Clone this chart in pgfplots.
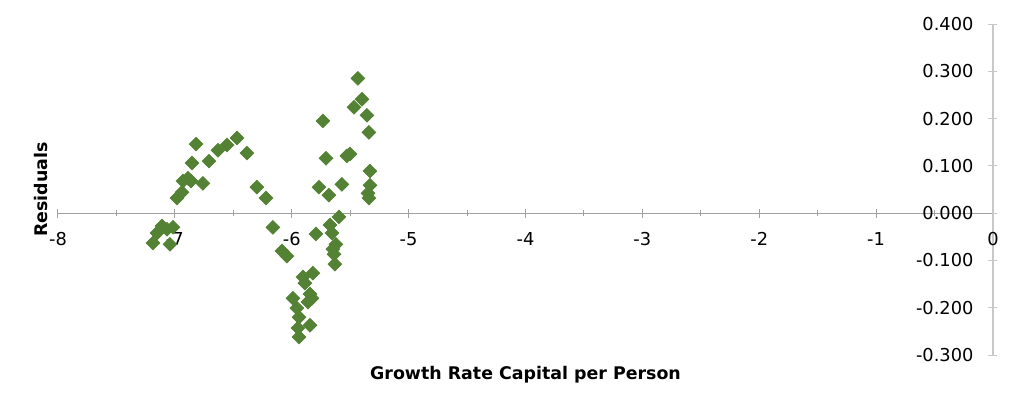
\documentclass[border=0pt]{standalone}
\usepackage{pgfplots}
\pgfplotsset{compat=1.18}
\usepackage{fontspec}
\setmainfont{DejaVu Sans}
\definecolor{mk}{RGB}{84,130,53}
\definecolor{axx}{RGB}{160,160,160}
\definecolor{axy}{RGB}{200,200,200}
\begin{document}
\begin{tikzpicture}
\begin{axis}[
  scale only axis, width=467.5pt, height=165.5pt,
  xmin=-8, xmax=0, ymin=-0.3, ymax=0.4,
  axis lines=middle,
  x axis line style={draw=axx, line width=0.6pt, -},
  y axis line style={draw=axy, line width=0.6pt, -},
  hide obscured x ticks=false, hide obscured y ticks=false,
  xtick={-8,-7,-6,-5,-4,-3,-2,-1,0},
  ytick={-0.3,-0.2,-0.1,0,0.1,0.2,0.3,0.4},
  minor x tick num=1,
  x tick style={draw=axx, line width=0.5pt},
  y tick style={draw=axy, line width=0.5pt},
  major tick length=4.5pt, minor tick length=3pt,
  tick label style={font=\fontsize{8.9}{10}\selectfont, text=black},
  /pgf/number format/assume math mode=true,
  xticklabel style={anchor=north, yshift=-4pt},
  yticklabel style={anchor=east, xshift=-4pt, /pgf/number format/.cd, fixed, fixed zerofill, precision=3},
  xlabel={\textbf{Growth Rate Capital per Person}},
  ylabel={\textbf{Residuals}},
  label style={font=\fontsize{8.7}{10}\selectfont},
  xlabel style={at={(axis description cs:0.5,0)}, anchor=north, yshift=-2pt},
  ylabel style={at={(axis description cs:0,0.5)}, rotate=90, anchor=south, xshift=0pt, yshift=1.5pt},
  clip=false,
]
\addplot[only marks, mark=square*, mark size=2.4pt, mark options={rotate=45, fill=mk, draw=mk}] table {
x y
-7.187 -0.063
-7.153 -0.042
-7.110 -0.027
-7.068 -0.034
-7.016 -0.030
-7.042 -0.066
-6.982 0.032
-6.939 0.044
-6.931 0.068
-6.888 0.074
-6.862 0.068
-6.854 0.106
-6.819 0.146
-6.760 0.063
-6.708 0.110
-6.631 0.133
-6.554 0.144
-6.469 0.159
-6.383 0.127
-6.298 0.055
-6.221 0.032
-6.161 -0.030
-6.084 -0.080
-6.041 -0.091
-5.434 0.285
-5.399 0.241
-5.468 0.224
-5.357 0.207
-5.340 0.171
-5.733 0.195
-5.707 0.116
-5.528 0.121
-5.502 0.125
-5.331 0.089
-5.767 0.055
-5.682 0.038
-5.571 0.061
-5.331 0.059
-5.348 0.042
-5.340 0.032
-5.596 -0.008
-5.673 -0.025
-5.656 -0.042
-5.793 -0.044
-5.622 -0.066
-5.648 -0.076
-5.639 -0.087
-5.631 -0.108
-5.819 -0.127
-5.904 -0.135
-5.887 -0.148
-5.844 -0.171
-5.827 -0.180
-5.861 -0.188
-5.990 -0.180
-5.956 -0.201
-5.938 -0.220
-5.947 -0.243
-5.844 -0.237
-5.938 -0.262
};
\end{axis}
\path (-29pt,-29pt) rectangle (483pt,177.5pt);
\end{tikzpicture}
\end{document}
